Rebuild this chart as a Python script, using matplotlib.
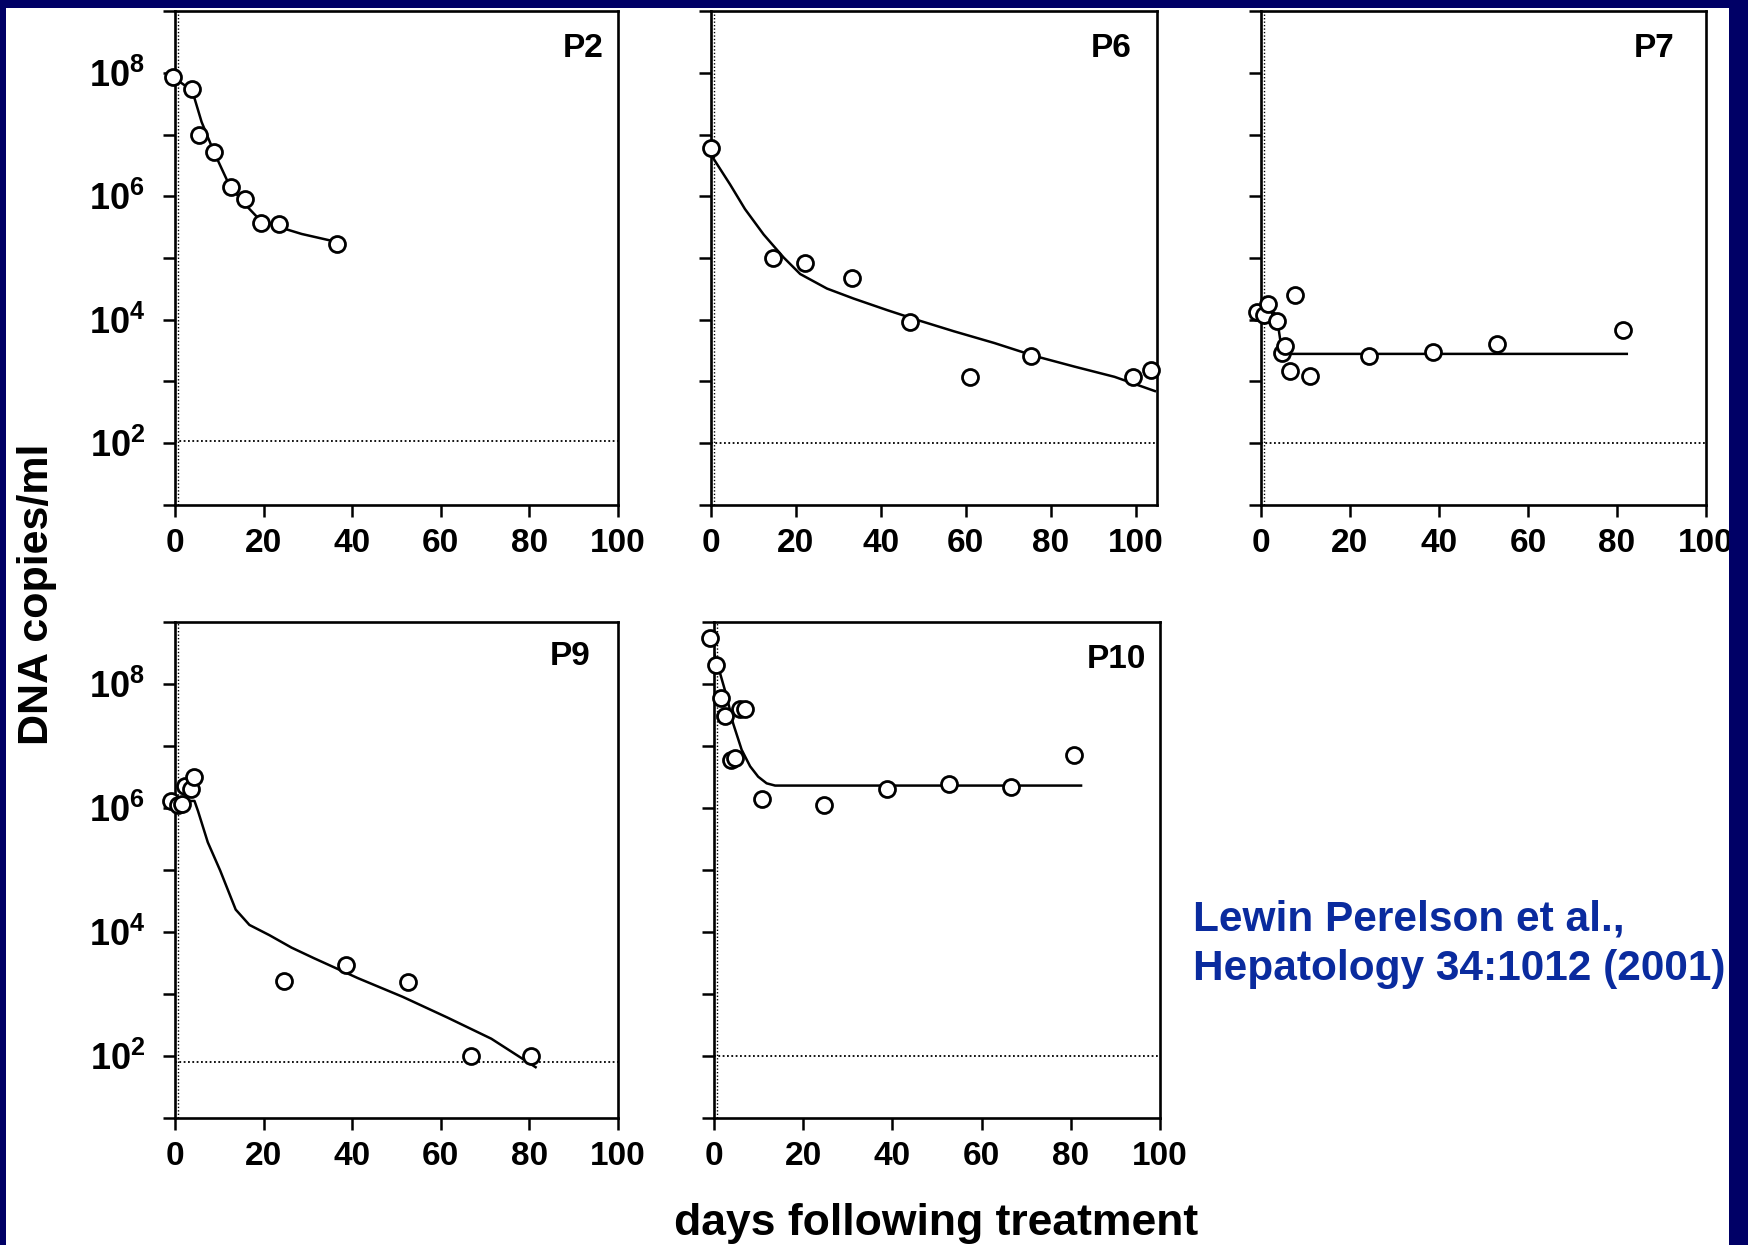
import matplotlib
matplotlib.use("Agg")
import matplotlib.pyplot as plt
import matplotlib.transforms as mtransforms
from matplotlib.patches import Rectangle
from matplotlib.ticker import FixedLocator, FixedFormatter, NullLocator

# ---- data (days, DNA copies/ml) ----
p2_days = [-0.5, 3.9, 5.4, 8.8, 12.6, 15.9, 19.5, 23.5, 36.6]
p2_dna = [8.5e7, 5.4e7, 9.8e6, 5.2e6, 1.4e6, 9.0e5, 3.7e5, 3.6e5, 1.7e5]
p2_fit_days = [0, 3.9, 6.0, 8.8, 12.0, 15.0, 18.8, 23.3, 28.6, 36.8]
p2_fit_dna = [8.1e7, 5.1e7, 1.6e7, 5.2e6, 1.66e6, 8.5e5, 4.4e5, 3.2e5, 2.45e5, 1.8e5]

p6_days = [0, 14.7, 22.2, 33.1, 46.8, 61.0, 75.4, 99.4, 103.5]
p6_dna = [6.0e6, 9.9e4, 8.2e4, 4.8e4, 9.3e3, 1.2e3, 2.6e3, 1.2e3, 1.55e3]
p6_fit_days = [0, 4.5, 8.0, 12.4, 17.1, 21.0, 27.3, 33.6, 41.5, 48.6,
               57.2, 66.7, 76.1, 85.6, 95.0, 104.5]
p6_fit_dna = [4.7e6, 1.55e6, 6.2e5, 2.4e5, 1.02e5, 5.5e4, 3.2e4, 2.2e4, 1.43e4,
              9.9e3, 6.5e3, 4.2e3, 2.6e3, 1.74e3, 1.19e3, 7.0e2]

p7_days = [-0.9, 0.6, 1.6, 3.7, 4.7, 5.5, 6.5, 7.6, 10.9, 24.3, 38.6, 53.0, 81.4]
p7_dna = [1.35e4, 1.2e4, 1.8e4, 9.4e3, 2.9e3, 3.8e3, 1.5e3, 2.5e4, 1.25e3,
          2.6e3, 2.95e3, 4.1e3, 6.9e3]
p7_fit_days = [0.5, 3.0, 3.75, 4.6, 5.6, 82.2]
p7_fit_dna = [1.3e4, 1.3e4, 8.9e3, 3.5e3, 2.8e3, 2.8e3]

p9_days = [-1.0, 0.7, 1.5, 2.3, 3.7, 4.3, 24.5, 38.6, 52.7, 66.9, 80.4]
p9_dna = [1.3e6, 1.1e6, 1.15e6, 2.3e6, 2.0e6, 3.2e6, 1.65e3, 2.9e3, 1.55e3, 1.0e2, 1.0e2]
p9_fit_days = [0, 4.4, 5.2, 7.4, 10.2, 13.7, 16.8, 21.3, 26.3, 31.3, 41.3,
               51.4, 61.4, 71.4, 81.4]
p9_fit_dna = [1.3e6, 1.3e6, 8.9e5, 2.8e5, 9.8e4, 2.3e4, 1.3e4, 8.9e3, 5.6e3,
              3.8e3, 1.8e3, 9.0e2, 4.2e2, 1.9e2, 6.6e1]

p10_days = [-0.8, 0.5, 1.5, 2.4, 3.7, 4.8, 5.8, 6.9, 10.7, 24.7, 38.7, 52.7, 66.7, 80.7]
p10_dna = [5.6e8, 2.0e8, 6.0e7, 3.0e7, 6.0e6, 6.5e6, 3.9e7, 3.9e7, 1.4e6,
           1.1e6, 2.0e6, 2.4e6, 2.2e6, 7.1e6]
p10_fit_days = [0, 1.35, 2.85, 4.3, 6.2, 8.1, 9.9, 11.8, 13.7, 82.3]
p10_fit_dna = [3.2e8, 1.5e8, 6.3e7, 2.3e7, 8.7e6, 4.7e6, 3.2e6, 2.5e6, 2.3e6, 2.3e6]

patients = ["P2", "P6", "P7", "P9", "P10"]
detection_limits = [110, 100, 100, 80, 100]
x_max = [100, 105, 100, 100, 100]

x_ticks = [0, 20, 40, 60, 80, 100]
y_ticks = [10 ** k for k in range(1, 10)]
y_tick_labels = ["", "$10^{2}$", "", "$10^{4}$", "", "$10^{6}$", "", "$10^{8}$", ""]

plt.rcParams["font.family"] = ["Liberation Sans", "DejaVu Sans"]
plt.rcParams["font.weight"] = "bold"
plt.rcParams["mathtext.fontset"] = "custom"
plt.rcParams["mathtext.rm"] = "Liberation Sans:bold"
plt.rcParams["mathtext.it"] = "Liberation Sans:bold"
plt.rcParams["mathtext.bf"] = "Liberation Sans:bold"

W, H = 1748, 1245
fig = plt.figure(figsize=(W / 100, H / 100), dpi=100, facecolor="white")


def rect(left, top, right, bottom):
    return [left / W, 1 - bottom / H, (right - left) / W, (bottom - top) / H]


# pixel boxes of the five panels, and where each panel name sits
boxes = [rect(175, 11, 618, 505), rect(711, 11, 1157, 505), rect(1261, 11, 1706, 505),
         rect(175, 622, 618, 1118), rect(714, 622, 1160, 1118)]
label_x = [0.968, 0.944, 0.93, 0.939, 0.969]
label_y = [0.925, 0.925, 0.925, 0.93, 0.925]

series = [
    (p2_days, p2_dna, p2_fit_days, p2_fit_dna),
    (p6_days, p6_dna, p6_fit_days, p6_fit_dna),
    (p7_days, p7_dna, p7_fit_days, p7_fit_dna),
    (p9_days, p9_dna, p9_fit_days, p9_fit_dna),
    (p10_days, p10_dna, p10_fit_days, p10_fit_dna),
]

for i, (days, dna, fdays, fdna) in enumerate(series):
    ax = fig.add_axes(boxes[i])
    ax.set_yscale("log")
    ax.set_xlim(0, x_max[i])
    ax.set_ylim(1e1, 1e9)

    ax.plot(fdays, fdna, color="black", lw=1.8, zorder=3)
    ax.plot(days, dna, ls="none", marker="o", ms=11.5, mfc="white", mec="black",
            mew=2.0, zorder=4, clip_on=False)
    ax.axhline(detection_limits[i], color="black", lw=1.3, ls=(0, (1, 1.4)), zorder=2)

    # faint dotted double of the y axis seen in the scan
    shifted = mtransforms.offset_copy(ax.get_xaxis_transform(), fig=fig, x=3, y=0, units="dots")
    ax.plot([0, 0], [0, 1], transform=shifted, color="black", lw=1.0,
            ls=(0, (1, 1.5)), zorder=2, clip_on=False)

    for side in ["left", "right", "top", "bottom"]:
        ax.spines[side].set_linewidth(1.9)

    ax.xaxis.set_major_locator(FixedLocator(x_ticks))
    ax.yaxis.set_major_locator(FixedLocator(y_ticks))
    ax.yaxis.set_minor_locator(NullLocator())
    ax.xaxis.set_minor_locator(NullLocator())
    if i in (0, 3):
        ax.yaxis.set_major_formatter(FixedFormatter(y_tick_labels))
    else:
        ax.yaxis.set_major_formatter(FixedFormatter([""] * len(y_ticks)))
    ax.tick_params(axis="both", direction="out", length=8.5, width=1.8)
    ax.tick_params(axis="x", labelsize=24, pad=8)
    ax.tick_params(axis="y", labelsize=26, pad=13)
    for lab in ax.get_xticklabels():
        lab.set_fontweight("bold")

    ax.text(label_x[i], label_y[i], patients[i], transform=ax.transAxes, ha="right",
            va="center", fontsize=24, fontweight="bold")

fig.text(37 / W, 1 - 594 / H, "DNA copies/ml", rotation=90, ha="center", va="center",
         fontsize=31, fontweight="bold")
fig.text(936 / W, 1 - 1223 / H, "days following treatment", ha="center", va="center",
         fontsize=32, fontweight="bold")
fig.text(1193 / W, 1 - 944 / H, "Lewin Perelson et al.,\nHepatology 34:1012 (2001)",
         ha="left", va="center", fontsize=30.5, fontweight="bold", color="#0a2b9e",
         linespacing=1.3)

# navy slide frame on top, cutting into the last tick label like in the scan
navy = "#000066"
for x0, y0, w, h in [(0, H - 8, W, 8), (0, 0, 6, H), (1729, 0, W - 1729, H)]:
    fig.add_artist(Rectangle((x0 / W, y0 / H), w / W, h / H, transform=fig.transFigure,
                             facecolor=navy, edgecolor="none", zorder=20))

fig.savefig("out.png", dpi=100, facecolor="white")
